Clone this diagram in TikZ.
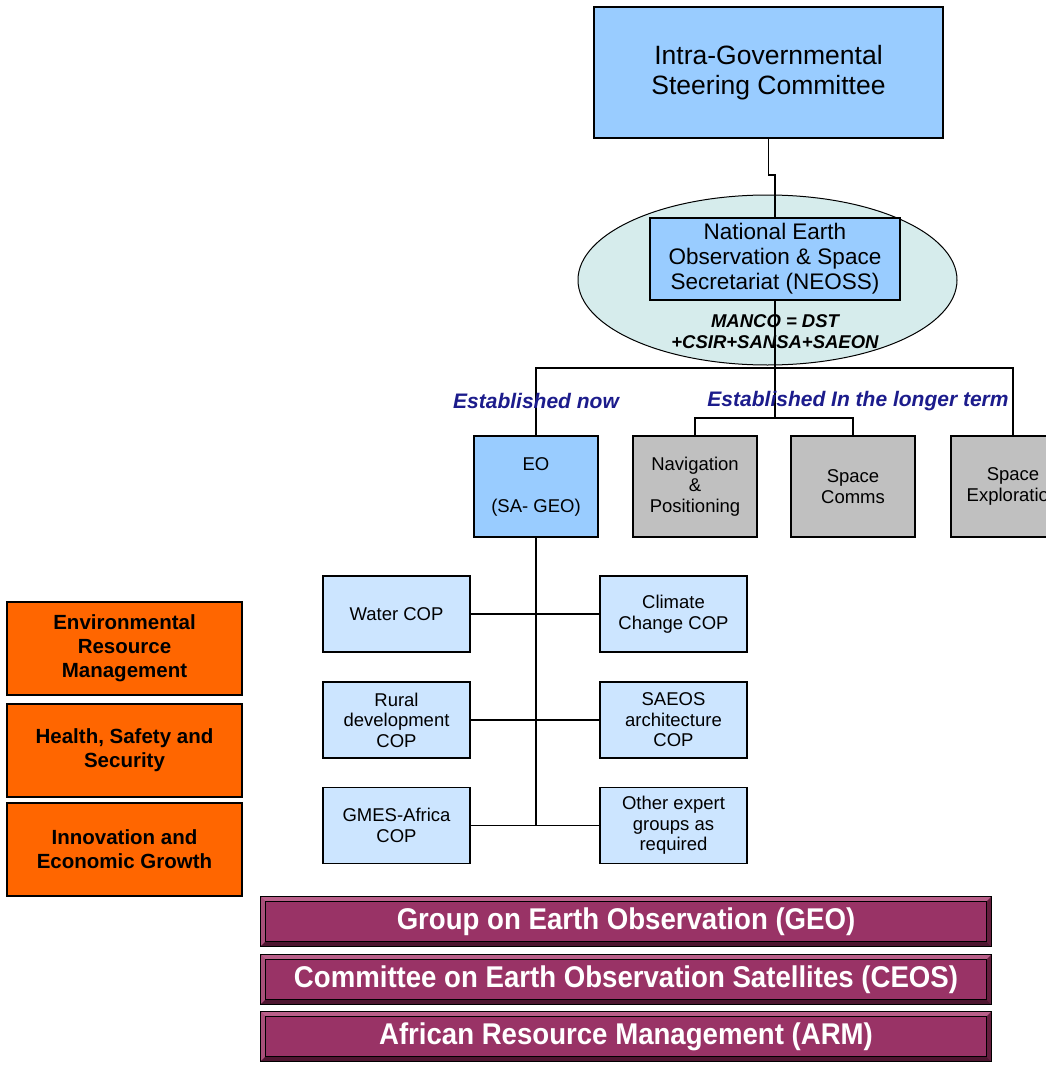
\documentclass[tikz,border=0pt]{standalone}
\usepackage{fontspec}
\setmainfont{Liberation Sans}
\newfontfamily\narrowfont[FakeStretch=0.92]{Liberation Sans}
\usetikzlibrary{shapes.geometric,calc}
\definecolor{boxblue}{RGB}{153,204,255}
\definecolor{copblue}{RGB}{204,229,255}
\definecolor{ellfill}{RGB}{214,236,236}
\definecolor{grayfill}{RGB}{192,192,192}
\definecolor{orangefill}{RGB}{255,102,0}
\definecolor{purplefill}{RGB}{153,51,102}
\definecolor{bevtop}{RGB}{186,96,138}
\definecolor{bevleft}{RGB}{170,80,122}
\definecolor{bevbot}{RGB}{78,22,48}
\definecolor{bevright}{RGB}{100,30,62}
\definecolor{navytext}{RGB}{28,28,140}
\tikzset{
  box/.style={draw=black, line width=1.2pt, align=center, inner sep=0pt, text=black},
  topbox/.style={box, fill=boxblue, font=\fontsize{26.5}{30}\selectfont},
  neossbox/.style={box, fill=boxblue, font=\fontsize{22.5}{25}\selectfont},
  unitbox/.style={box, minimum width=124pt, minimum height=101pt, font=\fontsize{18.5}{21}\selectfont},
  copbox/.style={box, fill=copblue, minimum width=147pt, minimum height=76pt, font=\fontsize{18.5}{20.5}\selectfont},
  orangebox/.style={box, fill=orangefill, minimum width=235pt, minimum height=93pt, font=\bfseries\fontsize{20.5}{24}\selectfont},
  purplebar/.style={draw=black, line width=0.8pt, fill=purplefill, minimum width=730pt, minimum height=49pt, inner sep=0pt, text=white, font=\narrowfont\bfseries\fontsize{30}{32}\selectfont},
  estlabel/.style={text=navytext, font=\bfseries\itshape\fontsize{21}{24}\selectfont, inner sep=0pt},
  conn/.style={draw=black, line width=1.2pt}
}
\newcommand\bevelbar[3]{%
  \node[purplebar] (#1) at (626,#2) {#3};
  \fill[bevtop] (#1.north west) -- (#1.north east) -- ++(-5,5) -- ($(#1.north west)+(5,5)$) -- cycle;
  \fill[bevleft] (#1.north west) -- ++(5,5) -- ($(#1.south west)+(5,-5)$) -- (#1.south west) -- cycle;
  \fill[bevbot] (#1.south west) -- (#1.south east) -- ++(-5,-5) -- ($(#1.south west)+(5,-5)$) -- cycle;
  \fill[bevright] (#1.north east) -- ++(-5,5) -- ($(#1.south east)+(-5,-5)$) -- (#1.south east) -- cycle;
  \draw[black, line width=0.8pt] (#1.north west) rectangle (#1.south east);
  \draw[black, line width=0.8pt] ($(#1.north west)+(5,5)$) rectangle ($(#1.south east)+(-5,-5)$);
}
\begin{document}
\begin{tikzpicture}[x=1pt,y=-1pt]
\useasboundingbox (0,0) rectangle (1046,1065);
\clip (0,0) rectangle (1046,1065);
\fill[white] (0,0) rectangle (1046,1065);

% top
\node[topbox, minimum width=349pt, minimum height=131pt] (igsc) at (768.5,72.5) {Intra-Governmental\\Steering Committee};

% ellipse
\node[ellipse, draw=black, line width=1pt, fill=ellfill, minimum width=379pt, minimum height=170pt, inner sep=0pt] (ell) at (767.5,280) {};
\node[neossbox, minimum width=250pt, minimum height=82pt] (neoss) at (775,259) {National Earth\\Observation \& Space\\Secretariat (NEOSS)};
\coordinate (jog) at (768.5,175);
\draw[conn] (igsc.south) -- (jog) -| (neoss.north);

% main trunk
\coordinate (bar) at (775,368);
\coordinate (sub) at (775,418);
\draw[conn] (neoss.south) -- (sub);
\node[font=\bfseries\itshape\fontsize{18.5}{21}\selectfont, align=center, inner sep=0pt] (manco) at (775,332) {MANCO = DST\\+CSIR+SANSA+SAEON};

% units
\node[unitbox, fill=boxblue] (eo) at (536,486.5) {EO\\[21pt](SA- GEO)};
\node[unitbox, fill=grayfill] (nav) at (695,486.5) {Navigation\\\&\\Positioning};
\node[unitbox, fill=grayfill] (comms) at (853,486.5) {Space\\Comms};
\node[unitbox, fill=grayfill] (sexp) at (1013,486.5) {Space\\Exploration};

\draw[conn] (eo.north) -- (eo.north |- bar) -- (sexp.north |- bar) -- (sexp.north);
\draw[conn] (nav.north) -- (nav.north |- sub) -- (comms.north |- sub) -- (comms.north);

\node[estlabel] (estnow) at (536,401) {Established now};
\node[estlabel] (estlong) at (858,401) {Established In the longer term};

% COPs
\node[copbox] (water) at (396.5,614) {Water COP};
\node[copbox] (climate) at (673.5,614) {Climate\\Change COP};
\node[copbox] (rural) at (396.5,720) {Rural\\development\\COP};
\node[copbox] (saeos) at (673.5,720) {SAEOS\\architecture\\COP};
\node[copbox] (gmes) at (396.5,825.5) {GMES-Africa\\COP};
\node[copbox] (other) at (673.5,825.5) {Other expert\\groups as\\required};

\draw[conn] (eo.south) -- (eo.south |- gmes.east);
\draw[conn] (water.east) -- (climate.west);
\draw[conn] (rural.east) -- (saeos.west);
\draw[conn] (gmes.east) -- (other.west);

% orange
\node[orangebox] (erm) at (124.5,648.5) {Environmental\\Resource\\Management};
\node[orangebox] (hss) at (124.5,750.5) {Health, Safety and\\Security};
\node[orangebox] (ieg) at (124.5,849.5) {Innovation and\\Economic Growth};

% purple bars
\bevelbar{geo}{921.5}{Group on Earth Observation (GEO)}
\bevelbar{ceos}{979.5}{Committee on Earth Observation Satellites (CEOS)}
\bevelbar{arm}{1036.5}{African Resource Management (ARM)}
\end{tikzpicture}
\end{document}
